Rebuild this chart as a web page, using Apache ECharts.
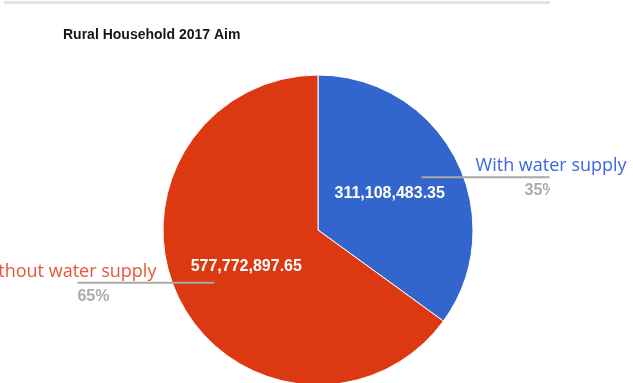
<!DOCTYPE html>
<html><head><meta charset="utf-8">
<script src="https://cdn.jsdelivr.net/npm/echarts@6/dist/echarts.min.js"></script>
<style>html,body{margin:0;padding:0;background:#fff}#c{width:633px;height:383px}</style>
</head><body><div id="c"></div>
<script>
// ---- data ----
const chartTitle = 'Rural Household 2017 Aim';
const categories = ['With water supply', 'Without water supply'];
const values = [311108483.35, 577772897.65];

// ---- styling / layout (not data) ----
const sliceColors = ['#3366cc', '#dc3912'];
const nameColors = ['#3d66e3', '#e8553a'];
const center = [318, 230];
const R = 155;
const lineLen = [128, 137];

const fmt = v => v.toLocaleString('en-US', {minimumFractionDigits: 2, maximumFractionDigits: 2});
const chart = echarts.init(document.getElementById('c'), null, {renderer: 'canvas'});

function lineGeom(p) {
  const pts = p.labelLinePoints;
  const s = pts[0];
  const right = s[0] > center[0];
  const ex = right ? s[0] + lineLen[p.dataIndex] : s[0] - lineLen[p.dataIndex];
  return {s, right, ex};
}

const baseData = categories.map((n, i) => ({name: n, value: values[i]}));

const option = {
  animation: false,
  title: {
    text: chartTitle, left: 58, top: 23,
    textStyle: {fontFamily: 'Liberation Sans, Arial', fontSize: 14, fontWeight: 'bold', color: '#151515'}
  },
  graphic: [
    {type: 'rect', left: 4, top: 1, shape: {width: 546, height: 3}, style: {fill: '#e4e4e4'}, silent: true},
    {type: 'rect', left: 550, top: 182, z: 100, shape: {width: 83, height: 18}, style: {fill: '#ffffff'}, silent: true}
  ],
  series: [
    {
      type: 'pie', center: center, radius: R, startAngle: 90, clockwise: true, silent: true,
      emphasis: {disabled: true},
      data: baseData.map((d, i) => ({...d, itemStyle: {color: sliceColors[i]}})),
      itemStyle: {borderColor: '#ffffff', borderWidth: 1},
      label: {
        show: true, position: 'inside', formatter: p => fmt(p.value),
        color: '#ffffff', fontFamily: 'Liberation Sans, Arial', fontSize: 16, fontWeight: 'bold'
      },
      labelLine: {show: false}
    },
    {
      type: 'pie', center: center, radius: R * 0.75, startAngle: 90, clockwise: true, silent: true,
      emphasis: {disabled: true}, z: 3,
      data: baseData.map((d, i) => ({...d, label: {color: nameColors[i]}})),
      itemStyle: {color: 'rgba(0,0,0,0)'},
      label: {
        show: true, position: 'outside', formatter: '{b}',
        fontFamily: 'Open Sans', fontSize: 18, fontWeight: 'normal'
      },
      labelLine: {show: true, length: 10, length2: 10, lineStyle: {color: '#a8a8a8', width: 2}},
      labelLayout: function (p) {
        if (!p.labelLinePoints) return {};
        const g = lineGeom(p);
        return {
          x: g.right ? g.ex - 74 : g.ex + 79,
          y: g.s[1] - 11,
          align: g.right ? 'left' : 'right',
          verticalAlign: 'middle',
          labelLinePoints: [[g.s[0], g.s[1]], [(g.s[0] + g.ex) / 2, g.s[1]], [g.ex, g.s[1]]]
        };
      }
    },
    {
      type: 'pie', center: center, radius: R * 0.75, startAngle: 90, clockwise: true, silent: true,
      emphasis: {disabled: true}, z: 3,
      data: baseData,
      itemStyle: {color: 'rgba(0,0,0,0)'},
      label: {
        show: true, position: 'outside', formatter: p => Math.round(p.percent) + '%',
        fontFamily: 'Liberation Sans, Arial', fontSize: 16, fontWeight: 'bold', color: '#ababab'
      },
      labelLine: {show: true, length: 10, length2: 10, lineStyle: {opacity: 0}},
      labelLayout: function (p) {
        if (!p.labelLinePoints) return {};
        const g = lineGeom(p);
        return {
          x: g.right ? g.ex + 7 : g.ex,
          y: g.s[1] + 13.5,
          align: g.right ? 'right' : 'left',
          verticalAlign: 'middle'
        };
      }
    }
  ]
};
chart.setOption(option);
</script>
</body></html>
